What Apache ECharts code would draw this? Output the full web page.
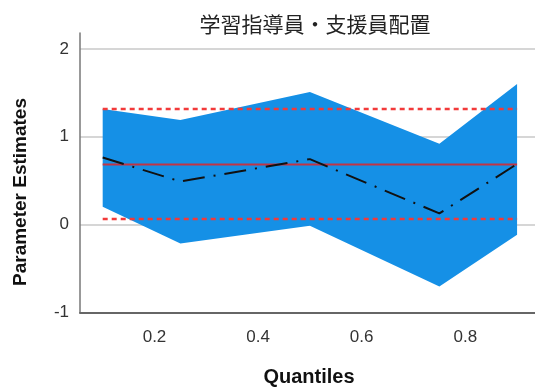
<!DOCTYPE html>
<html>
<head>
<meta charset="utf-8">
<script src="https://cdn.jsdelivr.net/npm/echarts@6/dist/echarts.min.js"></script>
<style>
  html, body { margin: 0; padding: 0; background: #fff; }
  #chart { width: 535px; height: 390px; }
</style>
</head>
<body>
<div id="chart"></div>
<script>
// Quantile regression coefficient for 学習指導員・支援員配置
const quantiles = [0.1, 0.25, 0.5, 0.75, 0.9];
const estimates = [0.764, 0.49, 0.745, 0.127, 0.69];
const ciLower = [0.203, -0.215, -0.014, -0.705, -0.116];
const ciUpper = [1.315, 1.19, 1.51, 0.92, 1.60];

// OLS estimate and its confidence bounds (horizontal reference lines)
const olsRange = [0.1, 0.9];
const olsEstimate = 0.685;
const olsLower = 0.063;
const olsUpper = 1.315;

const yTicks = [-1, 0, 1, 2];
const xTicks = [0.2, 0.4, 0.6, 0.8];

const chart = echarts.init(document.getElementById('chart'));

const pairs = (xs, ys) => xs.map((x, i) => [x, ys[i]]);
const hline = v => olsRange.map(x => [x, v]);

// Confidence band as one polygon: upper bound left→right, lower bound right→left
function renderBand(params, api) {
  if (params.dataIndex !== 0) return;
  const pts = [];
  quantiles.forEach((q, i) => pts.push(api.coord([q, ciUpper[i]])));
  for (let i = quantiles.length - 1; i >= 0; i--) pts.push(api.coord([quantiles[i], ciLower[i]]));
  return {
    type: 'polygon',
    shape: { points: pts },
    style: { fill: '#1590e6' }
  };
}

chart.setOption({
  animation: false,
  title: {
    text: '学習指導員・支援員配置',
    left: 310, top: 9, textAlign: 'center',
    textStyle: { fontFamily: 'Noto Sans CJK JP', fontSize: 21, fontWeight: 'normal', color: '#222' }
  },
  grid: { left: 80, right: 0, top: 33, bottom: 77.5 },
  xAxis: {
    type: 'value',
    min: 0.0562, max: 0.9346,
    axisLine: { show: true, onZero: false, lineStyle: { color: '#666', width: 2 } },
    axisTick: { show: false },
    splitLine: { show: false },
    axisLabel: {
      margin: 16,
      customValues: xTicks,
      fontFamily: 'Liberation Sans', fontSize: 17, color: '#333',
      formatter: v => v.toFixed(1)
    }
  },
  yAxis: {
    type: 'value',
    min: -1, max: 2.18,
    interval: 1,
    axisLine: { show: true, lineStyle: { color: '#777', width: 1.5 } },
    axisTick: { show: false },
    splitLine: { show: true, showMaxLine: false, lineStyle: { color: '#c8c8c8', width: 1.5 } },
    axisLabel: {
      margin: 11, padding: [8, 0, 0, 0],
      showMaxLabel: false,
      fontFamily: 'Liberation Sans', fontSize: 17, color: '#333',
      formatter: v => yTicks.includes(v) ? String(v) : ''
    }
  },
  graphic: [
    {
      type: 'text', x: 309, y: 377,
      style: {
        text: 'Quantiles', align: 'center', verticalAlign: 'middle',
        fontFamily: 'Liberation Sans', fontWeight: 'bold', fontSize: 20, fill: '#111'
      }
    },
    {
      type: 'text', x: 20.5, y: 192, rotation: Math.PI / 2,
      style: {
        text: 'Parameter Estimates', align: 'center', verticalAlign: 'middle',
        fontFamily: 'Liberation Sans', fontWeight: 'bold', fontSize: 19, fill: '#111'
      }
    }
  ],
  series: [
    {
      name: 'ci-band', type: 'custom',
      data: pairs(quantiles, ciUpper),
      renderItem: renderBand, silent: true, z: 1
    },
    {
      name: 'ols-upper', type: 'line', data: hline(olsUpper), symbol: 'none',
      lineStyle: { color: '#f23a3a', width: 2.5, type: [5, 4] }, z: 3
    },
    {
      name: 'ols-lower', type: 'line', data: hline(olsLower), symbol: 'none',
      lineStyle: { color: '#f23a3a', width: 2.5, type: [5, 4] }, z: 3
    },
    {
      name: 'ols', type: 'line', data: hline(olsEstimate), symbol: 'none',
      lineStyle: { color: '#c23444', width: 2 }, z: 3
    },
    {
      name: 'estimate', type: 'line', data: pairs(quantiles, estimates), symbol: 'none',
      lineStyle: { color: '#111', width: 2, type: [22, 9, 2, 9] }, z: 4
    }
  ]
});
</script>
</body>
</html>
